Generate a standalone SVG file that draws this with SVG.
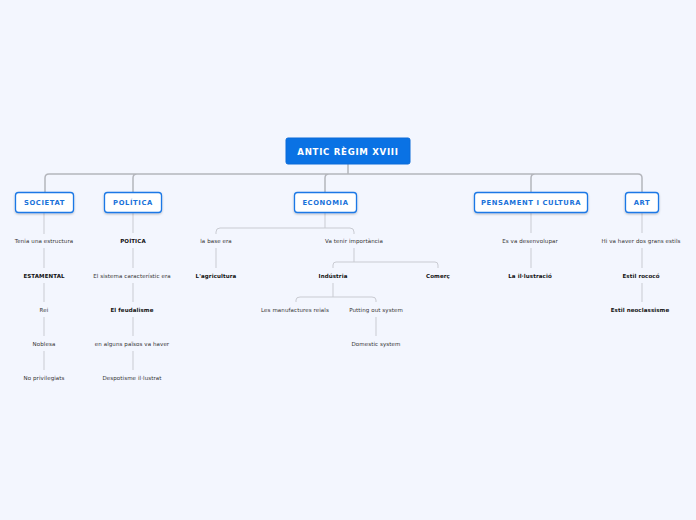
<svg xmlns="http://www.w3.org/2000/svg" width="696" height="520" viewBox="0 0 696 520">
<defs>
<style>
.bg{fill:#f3f6fe}
.root rect{fill:#0a72e4;stroke:#0a6ad8;stroke-width:1}
.root text{fill:#fff;font-family:"DejaVu Sans",Verdana,sans-serif;font-size:8.6px;font-weight:bold;text-anchor:middle;letter-spacing:0.7px}
.br rect{fill:#fff;stroke:#1a78e6;stroke-width:1.3}
.br text{fill:#1a72da;font-family:"DejaVu Sans",Verdana,sans-serif;font-size:6.8px;font-weight:bold;text-anchor:middle;letter-spacing:0.6px}
.t text{font-family:"DejaVu Sans",Verdana,sans-serif;font-size:5.5px;fill:#333;text-anchor:middle;letter-spacing:0.1px}
.t text.b{font-weight:bold;fill:#111}
.main{fill:none;stroke:#b4b6bc;stroke-width:1.5}
.c{fill:none;stroke:#c9cbd2;stroke-width:1}
</style>
<filter id="sh" x="-20%" y="-30%" width="140%" height="170%"><feDropShadow dx="0" dy="1" stdDeviation="0.8" flood-color="#000" flood-opacity="0.25"/></filter>
</defs>
<rect class="bg" width="696" height="520"/>
<g id="connectors">
<path class="main" d="M348 164V174M45 192V178Q45 174 49 174H638Q642 174 642 178V192M133 192V178Q133 174 137 174M325 192V178Q325 174 329 174M531 192V178Q531 174 535 174"/>
<path class="c" d="M44 213V234M44 248V268M44 283V302M44 317V336M44 351V370"/>
<path class="c" d="M133 213V233M133 248V268M133 283V302M133 317V336M133 351V370"/>
<path class="c" d="M325 213V228M216 234V232Q216 228 220 228H350Q354 228 354 232V234M216 248V268"/>
<path class="c" d="M354 248V262M333 268V265Q333 262 336 262H435Q438 262 438 265V268M333 283V297M296 302V300Q296 297 300 297H372Q376 297 376 300V302M376 317V336"/>
<path class="c" d="M531 213V233M531 248V268"/>
<path class="c" d="M642 213V233M642 248V268M642 283V302"/>
</g>
<g id="root" class="root"><rect x="286" y="138" width="124" height="26" rx="2"/><text x="348" y="155">ANTIC RÈGIM XVIII</text></g>
<g id="societat" class="br"><rect x="15.5" y="192.5" width="58" height="20" rx="3" filter="url(#sh)"/><text x="44.5" y="205">SOCIETAT</text></g>
<g id="politica" class="br"><rect x="104.5" y="192.5" width="57" height="20" rx="3" filter="url(#sh)"/><text x="133" y="205">POLÍTICA</text></g>
<g id="economia" class="br"><rect x="294.5" y="192.5" width="62" height="20" rx="3" filter="url(#sh)"/><text x="325.5" y="205">ECONOMIA</text></g>
<g id="pensament" class="br"><rect x="474.5" y="192.5" width="113" height="20" rx="3" filter="url(#sh)"/><text x="531" y="205">PENSAMENT I CULTURA</text></g>
<g id="art" class="br"><rect x="625.5" y="192.5" width="33" height="20" rx="3" filter="url(#sh)"/><text x="642" y="205">ART</text></g>
<g class="t">
<g id="n1"><text x="44" y="243">Tenia una estructura</text></g>
<g id="n2"><text class="b" x="44" y="278">ESTAMENTAL</text></g>
<g id="n3"><text x="44" y="312">Rei</text></g>
<g id="n4"><text x="44" y="346">Noblesa</text></g>
<g id="n5"><text x="44" y="380">No privilegiats</text></g>
<g id="n6"><text class="b" x="133" y="243">POÍTICA</text></g>
<g id="n7"><text x="132" y="278">El sistema característic era</text></g>
<g id="n8"><text class="b" x="132" y="312">El feudalisme</text></g>
<g id="n9"><text x="132" y="346">en alguns països va haver</text></g>
<g id="n10"><text x="132" y="380">Despotisme il·lustrat</text></g>
<g id="n11"><text x="216" y="243">la base era</text></g>
<g id="n12"><text class="b" x="216" y="278">L'agricultura</text></g>
<g id="n13"><text x="354" y="243">Va tenir importància</text></g>
<g id="n14"><text class="b" x="333" y="278">Indústria</text></g>
<g id="n15"><text class="b" x="438" y="278">Comerç</text></g>
<g id="n16"><text x="295" y="312">Les manufactures reials</text></g>
<g id="n17"><text x="376" y="312">Putting out system</text></g>
<g id="n18"><text x="376" y="346">Domestic system</text></g>
<g id="n19"><text x="530" y="243">Es va desenvolupar</text></g>
<g id="n20"><text class="b" x="530" y="278">La il·lustració</text></g>
<g id="n21"><text x="641" y="243">Hi va haver dos grans estils</text></g>
<g id="n22"><text class="b" x="641" y="278">Estil rococó</text></g>
<g id="n23"><text class="b" x="640" y="312">Estil neoclassisme</text></g>
</g>
</svg>
